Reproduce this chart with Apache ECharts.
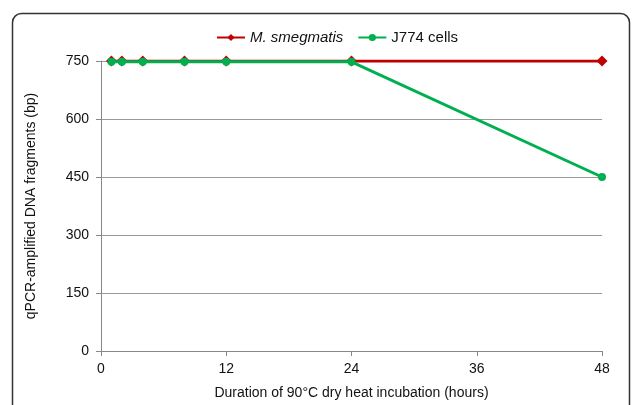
<!DOCTYPE html>
<html><head><meta charset="utf-8">
<script src="https://cdn.jsdelivr.net/npm/echarts@6/dist/echarts.min.js"></script>
<style>html,body{margin:0;padding:0;background:#fff}#c{width:633px;height:405px}</style>
</head><body><div id="c"></div>
<script>
const hours = [1, 2, 4, 8, 12, 24, 48];
const smegmatis = [750, 750, 750, 750, 750, 750, 750];
const j774 = [748, 748, 748, 748, 748, 748, 450];
const xTicks = [0, 12, 24, 36, 48];
const yTicks = [0, 150, 300, 450, 600, 750];

const chart = echarts.init(document.getElementById('c'), null, {renderer: 'canvas'});
const font = 'Liberation Sans, Arial, sans-serif';
chart.setOption({
  animation: false,
  textStyle: {fontFamily: font},
  graphic: [{
    type: 'rect', shape: {x: 12.5, y: 13.5, width: 617, height: 430, r: 9},
    style: {fill: 'none', stroke: '#333', lineWidth: 1.5}, z: 0
  }],
  legend: {
    top: 25, left: 211, itemWidth: 28, itemHeight: 9, itemGap: 14,
    textStyle: {fontSize: 15, color: '#111', fontFamily: font},
    data: [
      {name: 'M. smegmatis', textStyle: {fontStyle: 'italic'}},
      {name: 'J774 cells'}
    ]
  },
  grid: {left: 101, right: 31, top: 61, bottom: 52},
  xAxis: {
    type: 'value', min: xTicks[0], max: xTicks[xTicks.length - 1], interval: 12,
    name: 'Duration of 90°C dry heat incubation (hours)', nameLocation: 'middle', nameGap: 35,
    nameTextStyle: {fontSize: 14, color: '#111'},
    axisLine: {lineStyle: {color: '#888', width: 1}},
    axisTick: {show: true, length: 5, lineStyle: {color: '#888'}},
    axisLabel: {fontSize: 14, color: '#111', margin: 11},
    splitLine: {show: false}
  },
  yAxis: {
    type: 'value', min: yTicks[0], max: yTicks[yTicks.length - 1], interval: 150,
    name: 'qPCR-amplified DNA fragments (bp)', nameLocation: 'middle', nameGap: 63,
    nameTextStyle: {fontSize: 14, color: '#111'},
    axisLine: {show: true, lineStyle: {color: '#888', width: 1}},
    axisTick: {show: true, length: 5, lineStyle: {color: '#888'}},
    axisLabel: {fontSize: 14, color: '#111', margin: 12},
    splitLine: {show: true, lineStyle: {color: '#999', width: 1}}
  },
  series: [
    {
      name: 'M. smegmatis', type: 'line',
      data: hours.map((h, i) => [h, smegmatis[i]]),
      color: '#C00000', lineStyle: {width: 3, color: '#C00000'},
      symbol: 'diamond', symbolSize: 11, itemStyle: {color: '#C00000'}, z: 2
    },
    {
      name: 'J774 cells', type: 'line',
      data: hours.map((h, i) => [h, j774[i]]),
      color: '#00B050', lineStyle: {width: 3, color: '#00B050'},
      symbol: 'circle', symbolSize: 8, itemStyle: {color: '#00B050'}, z: 3
    }
  ]
});
</script></body></html>
